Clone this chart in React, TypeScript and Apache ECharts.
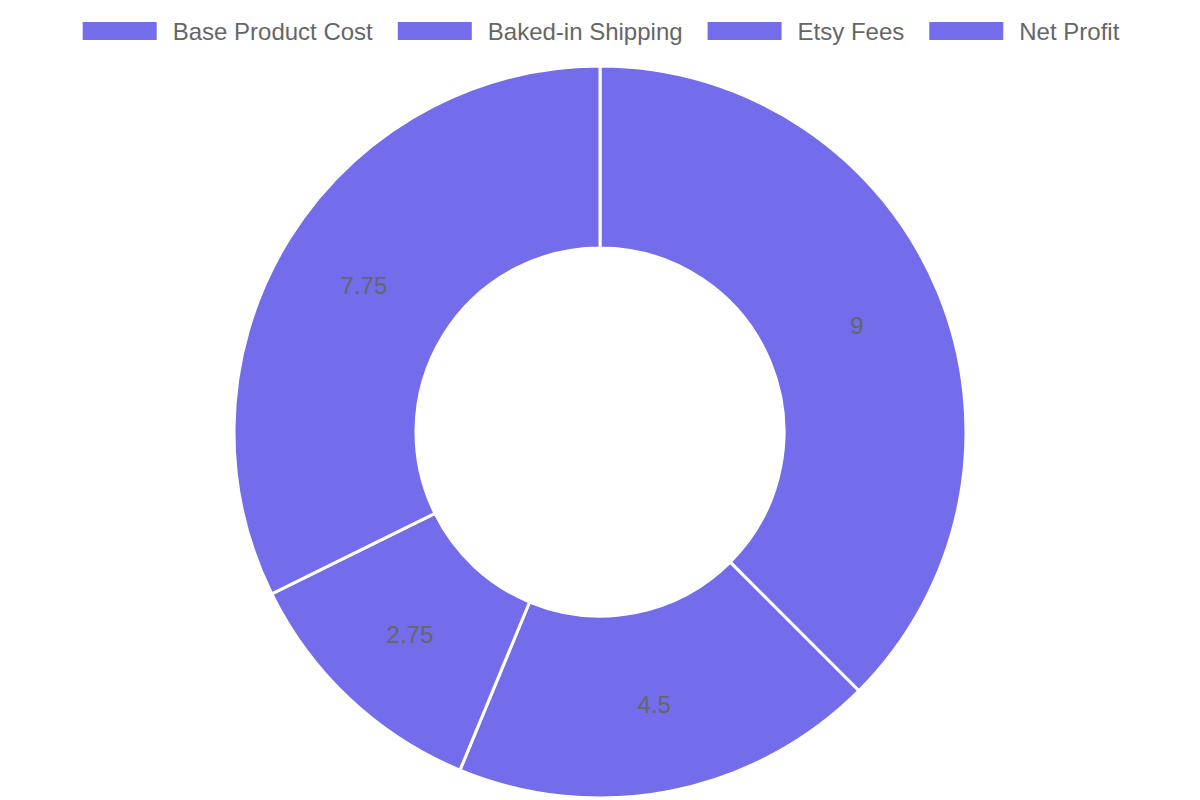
import React, { useEffect, useRef } from "react";
import * as echarts from "echarts";

const categories = ["Base Product Cost", "Baked-in Shipping", "Etsy Fees", "Net Profit"];
const values = [9, 4.5, 2.75, 7.75];
const sliceColor = "#736ceb";
const textColor = "#666666";

export default function App() {
  const ref = useRef<HTMLDivElement>(null);
  useEffect(() => {
    document.body.style.margin = "0";
    if (!ref.current) return;
    const chart = echarts.init(ref.current, undefined, { renderer: "svg" });
    chart.setOption({
      animation: false,
      legend: {
        top: 14,
        left: "center",
        itemWidth: 76,
        itemHeight: 20,
        itemGap: 23,
        icon: "rect",
        data: categories,
        textStyle: {
          fontFamily: "Liberation Sans, Arial, sans-serif",
          fontSize: 24,
          color: textColor,
          padding: [0, 0, 0, 10],
        },
      },
      series: [
        {
          type: "pie",
          center: [600, 432],
          radius: [184, 366],
          startAngle: 90,
          clockwise: true,
          avoidLabelOverlap: false,
          itemStyle: { color: sliceColor, borderColor: "#ffffff", borderWidth: 3 },
          label: {
            show: true,
            position: "inside",
            formatter: "{c}",
            fontFamily: "Liberation Sans, Arial, sans-serif",
            fontSize: 24,
            color: textColor,
          },
          labelLine: { show: false },
          emphasis: { disabled: true },
          data: categories.map((name, i) => ({ name, value: values[i] })),
        },
      ],
    });
    return () => chart.dispose();
  }, []);
  return <div ref={ref} style={{ width: 1200, height: 800 }} />;
}
